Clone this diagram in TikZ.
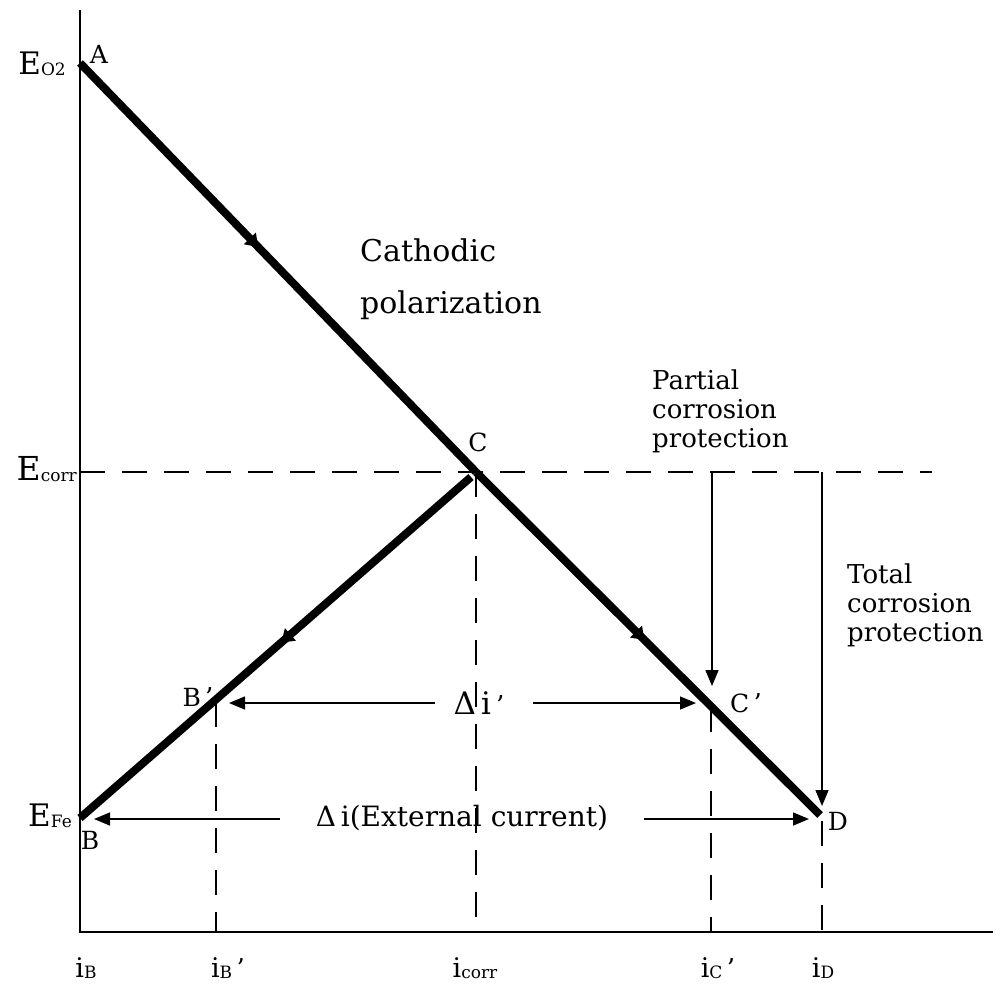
\documentclass[tikz,border=0pt]{standalone}
\usepackage{fontspec}
\setmainfont{DejaVu Serif}
\usetikzlibrary{arrows.meta,decorations.markings}
\newcommand{\pr}{\,{\fontsize{26}{26}\selectfont ’}}
\newcommand{\lowsub}[1]{{\fontsize{17}{17}\selectfont\raisebox{-1pt}{#1}}}
\tikzset{
  axisline/.style={line width=2pt},
  thickline/.style={line width=8pt, line cap=butt},
  dashline/.style={line width=1.5pt, dash pattern=on 25pt off 17pt},
  thinarrow/.style={line width=1.5pt, -{Triangle[length=16pt,width=13pt]}},
  midarrow/.style={postaction={decorate}, decoration={markings, mark=at position #1 with {\arrow{Triangle[length=12pt,width=16pt]}}}},
  lbl/.style={inner sep=0pt, font=\fontsize{25}{28}\selectfont},
  big/.style={inner sep=0pt, font=\fontsize{31}{34}\selectfont},
  cur/.style={inner sep=0pt, anchor=base, font=\fontsize{27}{30}\selectfont},
  txt/.style={inner sep=0pt, align=left, anchor=north west, font=\fontsize{25}{30}\selectfont},
}
\begin{document}
\begin{tikzpicture}[x=1pt,y=-1pt]
\useasboundingbox (0,0) rectangle (1000,986);
% key points
\coordinate (A) at (80,63);
\coordinate (C) at (476,472);
\coordinate (D) at (820,815);
\coordinate (B) at (80,818);
\coordinate (Ce) at (471,477);
\coordinate (ytop) at (80,10);
\coordinate (O) at (80,932);
\coordinate (xend) at (993,932);
% axes
\draw[axisline] (ytop) -- (O) -- (xend);
% dashed lines
\coordinate (ecl) at (80,472);
\coordinate (ecr) at (932,472);
\draw[dashline] (ecl) -- (ecr);
\coordinate (v1t) at (216,702); \coordinate (v1b) at (216,932);
\coordinate (v2t) at (476,472); \coordinate (v2b) at (476,932);
\coordinate (v3t) at (711,707); \coordinate (v3b) at (711,932);
\coordinate (v4t) at (822,821); \coordinate (v4b) at (822,932);
\draw[dashline] (v1t) -- (v1b);
\draw[dashline] (v2t) -- (v2b);
\draw[dashline] (v3t) -- (v3b);
\draw[dashline] (v4t) -- (v4b);
% thick polarization lines
\draw[thickline, midarrow=0.45] (A) -- (C);
\draw[thickline, midarrow=0.49] (C) -- (D);
\draw[thickline, midarrow=0.485] (Ce) -- (B);
% protection arrows
\coordinate (pt) at (712,472); \coordinate (pb) at (712,686);
\coordinate (tt) at (822,472); \coordinate (tb) at (822,806);
\draw[thinarrow] (pt) -- (pb);
\draw[thinarrow] (tt) -- (tb);
% delta i prime
\node[big] (dip) at (479,703) {Δ\,i\pr};
\coordinate (dl1) at (435,703); \coordinate (dl2) at (229,703);
\coordinate (dr1) at (533,703); \coordinate (dr2) at (696,703);
\draw[thinarrow] (dl1) -- (dl2);
\draw[thinarrow] (dr1) -- (dr2);
% delta i external
\node[big, font=\fontsize{28}{32}\selectfont] (die) at (462,818) {Δ\,i(External current)};
\coordinate (el1) at (280,819); \coordinate (el2) at (94,819);
\coordinate (er1) at (644,819); \coordinate (er2) at (809,819);
\draw[thinarrow] (el1) -- (el2);
\draw[thinarrow] (er1) -- (er2);
% point labels
\node[lbl] (lA) at (99,54) {A};
\node[lbl] (lC) at (478,442) {C};
\node[lbl] (lB) at (90,840) {B};
\node[lbl] (lD) at (838,821) {D};
\node[lbl] (lBp) at (198,697) {B\pr};
\node[lbl] (lCp) at (746,703) {C\pr};
% potential labels
\node[big, anchor=base east] (eo2) at (66,74) {E\lowsub{O2}};
\node[big, font=\fontsize{33}{36}\selectfont, anchor=base east] (ecorr) at (77,480) {E\lowsub{corr}};
\node[big, anchor=base east] (efe) at (72,826) {E\lowsub{Fe}};
% current labels
\node[cur] (iB) at (86,977) {i\lowsub{B}};
\node[cur] (iBp) at (228,977) {i\lowsub{B}\pr};
\node[cur] (icorr) at (475,977) {i\lowsub{corr}};
\node[cur] (iCp) at (718,977) {i\lowsub{C}\pr};
\node[cur] (iD) at (823,977) {i\lowsub{D}};
% texts
\node[txt, font=\fontsize{30}{52}\selectfont] (cath) at (360,238) {Cathodic\\polarization};
\node[txt, font=\fontsize{26}{29}\selectfont] (part) at (652,370) {Partial\\corrosion\\protection};
\node[txt, font=\fontsize{26}{29}\selectfont] (tot) at (847,564) {Total\\corrosion\\protection};
\end{tikzpicture}
\end{document}
